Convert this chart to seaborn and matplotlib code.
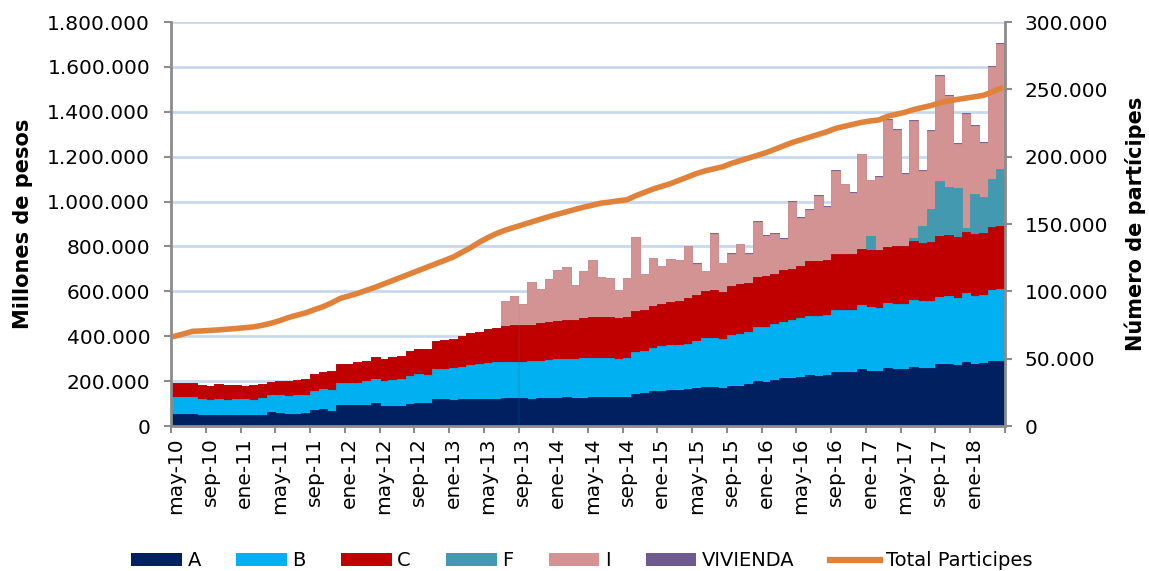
import numpy as np
import pandas as pd
import matplotlib
matplotlib.use("Agg")
import matplotlib.pyplot as plt
from matplotlib.patches import Patch
from matplotlib.lines import Line2D
from matplotlib.ticker import FuncFormatter, FixedLocator
import seaborn as sns

# meses may-10 .. abr-18
mes_abrev = ["ene", "feb", "mar", "abr", "may", "jun", "jul", "ago", "sep", "oct", "nov", "dic"]
meses = [f"{mes_abrev[(4 + k) % 12]}-{10 + (4 + k) // 12}" for k in range(96)]

# valores en miles de millones de pesos
fondo_a = [52, 53, 53, 48, 47, 50, 48, 51, 48, 48, 51, 61, 59, 55, 55, 56,
           70, 76, 69, 95, 94, 94, 95, 101, 91, 88, 91, 99, 104, 101, 122, 119,
           114, 119, 122, 121, 122, 122, 123, 124, 123, 122, 123, 126, 126, 131, 126, 125,
           127, 128, 128, 127, 128, 141, 146, 156, 157, 160, 160, 165, 168, 174, 174, 171,
           178, 180, 187, 200, 198, 206, 214, 216, 220, 227, 224, 228, 241, 242, 242, 254,
           245, 245, 257, 253, 253, 264, 260, 260, 275, 278, 272, 285, 276, 280, 291, 291]
fondo_b = [77, 77, 76, 74, 71, 69, 70, 70, 71, 70, 73, 76, 77, 78, 81, 83,
           86, 87, 92, 98, 96, 99, 104, 107, 111, 116, 120, 124, 126, 127, 132, 136,
           144, 145, 148, 154, 160, 161, 161, 163, 164, 166, 167, 169, 173, 168, 173, 177,
           174, 173, 176, 172, 177, 187, 188, 193, 199, 201, 201, 202, 211, 219, 219, 216,
           229, 230, 232, 241, 245, 248, 251, 256, 260, 264, 266, 268, 276, 276, 277, 284,
           286, 282, 291, 289, 289, 297, 295, 295, 300, 301, 300, 309, 303, 304, 315, 320]
fondo_c = [61, 62, 63, 62, 62, 66, 63, 63, 59, 63, 62, 60, 64, 67, 69, 72,
           77, 77, 82, 84, 87, 90, 92, 98, 97, 102, 102, 110, 114, 116, 123, 128,
           128, 137, 143, 145, 150, 155, 160, 161, 164, 164, 167, 168, 167, 172, 174, 177,
           183, 184, 181, 183, 182, 186, 184, 184, 189, 191, 197, 203, 203, 210, 213, 211,
           218, 221, 219, 223, 225, 222, 230, 227, 234, 244, 246, 244, 251, 250, 249, 249,
           252, 255, 249, 258, 260, 265, 262, 267, 273, 272, 271, 272, 275, 274, 279, 281]
fondo_f = [0] * 80 + [65, 0, 0, 0, 0, 11, 74, 143, 245, 214, 216, 15, 180, 161, 214, 251]
fondo_i = [0] * 38 + [111, 132, 91, 188, 152, 190, 229, 239, 154, 210,
                      256, 179, 173, 124, 171, 327, 161, 214, 169, 190, 182, 233,
                      141, 86, 250, 127, 142, 178, 129, 246, 180, 180,
                      140, 300, 214, 227, 289, 236, 368, 309, 270, 423,
                      246, 326, 565, 521, 320, 521, 245, 348, 467, 407, 199, 511, 304, 241, 499, 558]
fondo_viv = [0] * 60 + [2] * 10 + [3] * 10 + [4] * 16

# numero de participes (miles)
participes = [66.8, 68.5, 70.3, 70.6, 71.0, 71.4, 71.9, 72.4, 73.0, 73.6, 74.8, 76.3,
              78.2, 80.5, 82.3, 84.0, 86.4, 88.6, 91.5, 94.8, 96.6, 98.5, 100.8, 103.0,
              105.5, 108.0, 110.5, 113.0, 115.5, 118.0, 120.5, 123.0, 125.5, 129.0, 132.5, 136.5,
              140.0, 143.0, 145.5, 147.5, 149.5, 151.5, 153.5, 155.5, 157.3, 159.0, 160.8, 162.5,
              164.0, 165.5, 166.3, 167.2, 168.0, 171.0, 173.5, 176.0, 178.0, 180.0, 182.5, 185.0,
              187.5, 189.5, 191.0, 192.5, 195.0, 197.0, 199.0, 201.0, 203.0, 205.5, 208.0, 210.5,
              212.5, 214.5, 216.5, 218.5, 221.0, 222.5, 224.0, 225.5, 226.5, 227.3, 230.0, 231.5,
              233.0, 235.0, 236.5, 238.0, 240.0, 241.5, 242.5, 243.5, 244.5, 245.5, 248.0, 250.8]

colores = {"A": "#002060", "B": "#00B0F0", "C": "#C00000", "F": "#4399B0",
           "I": "#D29392", "VIVIENDA": "#6F5A8E"}
color_linea = "#E0823A"
gris = "#8C8C8C"

df = pd.DataFrame({"mes": meses, "A": fondo_a, "B": fondo_b, "C": fondo_c,
                   "F": fondo_f, "I": fondo_i, "VIVIENDA": fondo_viv}).set_index("mes") * 1000
acum = df.cumsum(axis=1)

plt.rcParams["font.family"] = ["DejaVu Sans"]
fig = plt.figure(figsize=(11.49, 5.71), dpi=100)
ax = fig.add_axes([171 / 1149, 1 - 426 / 571, (1005 - 171) / 1149, (426 - 22) / 571])

# barras apiladas: se pinta de la capa superior a la inferior
for serie in ["VIVIENDA", "I", "F", "C", "B", "A"]:
    sns.barplot(x=meses, y=acum[serie].values, color=colores[serie], saturation=1,
                width=1.0, linewidth=0.6, edgecolor=colores[serie], errorbar=None, ax=ax)

ax.set_xlim(-0.5, 95.5)
ax.set_ylim(0, 1800000)
ax.yaxis.set_major_locator(FixedLocator(np.arange(0, 1800001, 200000)))
ax.yaxis.set_major_formatter(FuncFormatter(lambda v, p: f"{v:,.0f}".replace(",", ".")))
ax.grid(axis="y", color="#C8D8EE", linewidth=2)
ax.set_axisbelow(True)

pos_lab = list(range(0, 96, 4))
ax.xaxis.set_major_locator(FixedLocator(pos_lab))
ax.set_xticklabels([meses[p] for p in pos_lab], rotation=90)
ax.xaxis.set_minor_locator(FixedLocator(np.arange(-0.5, 96, 4)))
ax.tick_params(axis="x", which="major", length=0, pad=8, labelsize=14.5)
ax.tick_params(axis="x", which="minor", length=5, width=1.5, color=gris)
ax.tick_params(axis="y", length=5, width=1.5, color=gris, pad=10, labelsize=14.5)
ax.set_xlabel("")
ax.set_ylabel("Millones de pesos", fontsize=15, fontweight="bold", labelpad=10)

for s in ["top", "right"]:
    ax.spines[s].set_visible(False)
for s in ["left", "bottom"]:
    ax.spines[s].set_color(gris)
    ax.spines[s].set_linewidth(2)

ax2 = ax.twinx()
sns.lineplot(x=np.arange(96), y=np.array(participes) * 1000, color=color_linea,
             linewidth=4, ax=ax2)
ax2.set_xlim(-0.5, 95.5)
ax2.set_ylim(0, 300000)
ax2.yaxis.set_major_locator(FixedLocator(np.arange(0, 300001, 50000)))
ax2.yaxis.set_major_formatter(FuncFormatter(lambda v, p: f"{v:,.0f}".replace(",", ".")))
ax2.tick_params(axis="y", length=5, width=1.5, color=gris, pad=9, labelsize=14.5)
ax2.set_ylabel("Número de partícipes", fontsize=15, fontweight="bold", labelpad=12)
for s in ["top", "left", "bottom"]:
    ax2.spines[s].set_visible(False)
ax2.spines["right"].set_color(gris)
ax2.spines["right"].set_linewidth(2)

handles = [Patch(facecolor=colores[k], edgecolor="none", label=k) for k in colores]
handles.append(Line2D([0], [0], color=color_linea, linewidth=4.5, label="Total Participes"))
fig.legend(handles=handles, loc="center", bbox_to_anchor=(582 / 1149, 1 - 561 / 571),
           ncol=7, frameon=False, fontsize=14, handlelength=2.6, handleheight=0.65,
           handletextpad=0.3, columnspacing=1.8, borderaxespad=0)

fig.savefig("out.png", dpi=100)
